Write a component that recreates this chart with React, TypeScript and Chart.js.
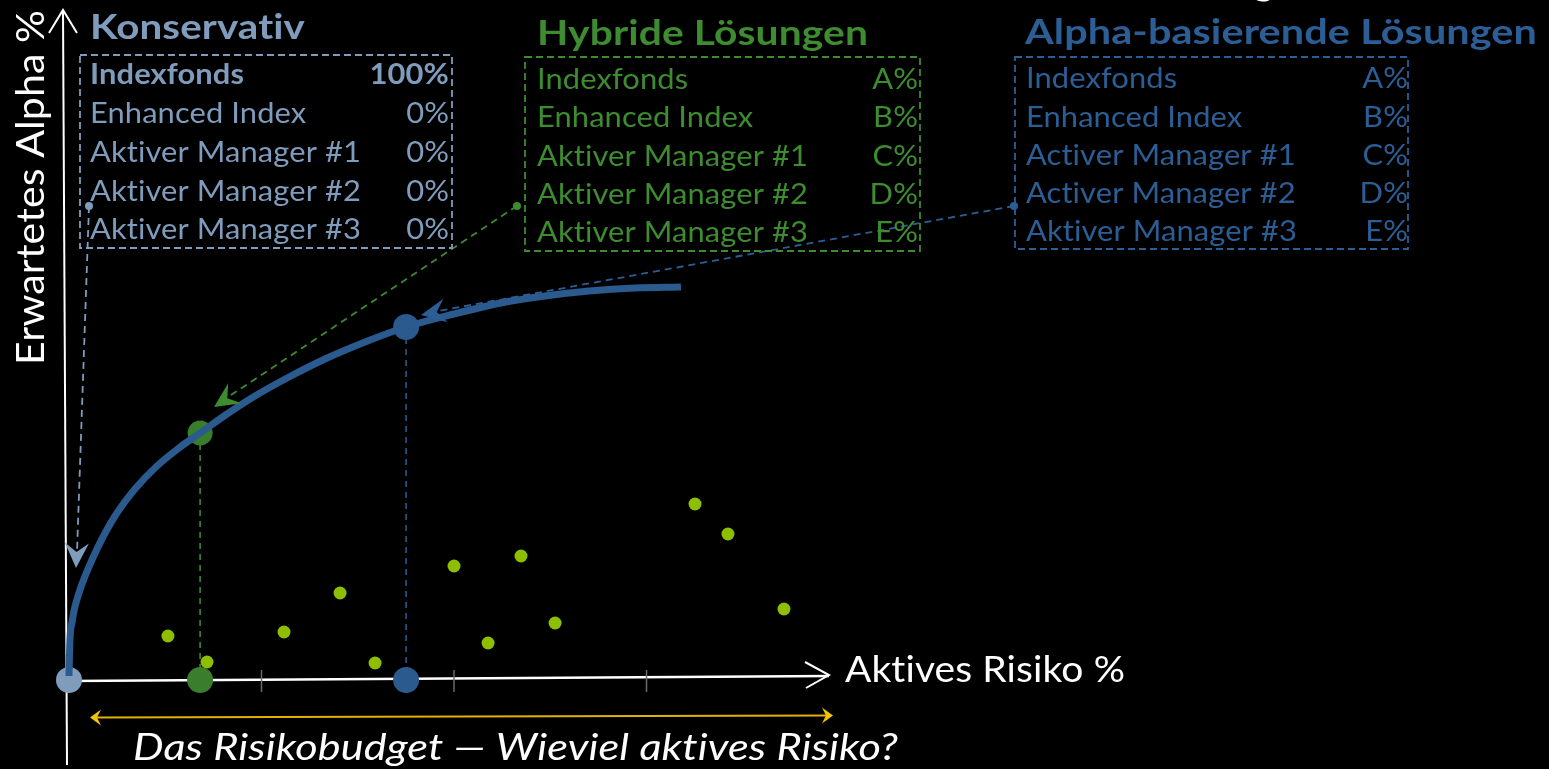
import React, { useEffect, useRef } from "react";
import { Chart, registerables } from "chart.js";
Chart.register(...registerables);

const W = 1549;
const H = 769;

// ---- data (x = Aktives Risiko units, y = Erwartetes Alpha units) ----
const frontierX = [0, 0.005, 0.016, 0.026, 0.036, 0.062, 0.088, 0.119, 0.182, 0.249, 0.338, 0.457, 0.571, 0.681, 0.821, 0.966, 1.143, 1.33, 1.538, 1.751, 2.0, 2.244, 2.473, 2.701, 2.94, 3.179];
const frontierY = [0.04, 0.4, 0.58, 0.69, 0.77, 0.93, 1.06, 1.2, 1.45, 1.67, 1.9, 2.14, 2.32, 2.47, 2.66, 2.84, 3.03, 3.21, 3.38, 3.53, 3.66, 3.77, 3.84, 3.89, 3.92, 3.93];
const managerX = [0.514, 0.717, 1.117, 1.408, 1.59, 2.0, 2.177, 2.348, 2.525, 3.252, 3.423, 3.714];
const managerY = [0.44, 0.18, 0.48, 0.87, 0.17, 1.14, 0.37, 1.24, 0.57, 1.76, 1.46, 0.71];
const portfolioNames = ["Konservativ", "Hybride Lösungen", "Alpha-basierende Lösungen"];
const portfolioX = [0, 0.681, 1.751];
const portfolioY = [0, 2.47, 3.53];
const xTicks = [1, 2, 3];
const konservativRows = ["Indexfonds", "Enhanced Index", "Aktiver Manager #1", "Aktiver Manager #2", "Aktiver Manager #3"];
const konservativValues = ["100%", "0%", "0%", "0%", "0%"];
const hybridRows = ["Indexfonds", "Enhanced Index", "Aktiver Manager #1", "Aktiver Manager #2", "Aktiver Manager #3"];
const hybridValues = ["A%", "B%", "C%", "D%", "E%"];
const alphaRows = ["Indexfonds", "Enhanced Index", "Activer Manager #1", "Activer Manager #2", "Aktiver Manager #3"];
const alphaValues = ["A%", "B%", "C%", "D%", "E%"];
const yAxisTitle = "Erwartetes Alpha %";
const xAxisTitle = "Aktives Risiko %";
const budgetText = "Das Risikobudget \u2014 Wieviel aktives Risiko?";

// ---- styles ----
const KONS = "#7f9cbd";
const GREEN = "#3a7e2d";
const GREEN_TXT = "#3d8c30";
const BLUE = "#2a5a8e";
const BLUE_TXT = "#2c5e96";
const LIME = "#8dbf00";
const YELLOW = "#e2b200";
const FONT = "Lato, 'Open Sans', sans-serif";

const panels = [
  {
    title: portfolioNames[0], rows: konservativRows, values: konservativValues, color: KONS, txt: KONS,
    titleX: 90, titleY: 39, titleW: 215,
    box: [80, 55, 452, 248], rowX: 90, valX: 449, rowY: [84, 123, 162, 201, 239], boldFirst: true,
    dot: [89, 206], lineEnd: [77, 552], tip: [76, 568],
  },
  {
    title: portfolioNames[1], rows: hybridRows, values: hybridValues, color: GREEN_TXT, txt: GREEN_TXT,
    titleX: 537, titleY: 45, titleW: 331,
    box: [525, 57, 920, 251], rowX: 537, valX: 918, rowY: [89, 127, 166, 204, 242], boldFirst: false,
    dot: [517, 206], lineEnd: [228, 397], tip: [214, 407],
  },
  {
    title: portfolioNames[2], rows: alphaRows, values: alphaValues, color: BLUE_TXT, txt: BLUE_TXT,
    titleX: 1025, titleY: 44, titleW: 512,
    box: [1015, 57, 1408, 249], rowX: 1026, valX: 1408, rowY: [88, 127, 165, 203, 241], boldFirst: false,
    dot: [1014, 206], lineEnd: [438, 311], tip: [421, 315],
  },
];

function prep(ctx: any, font: string) {
  ctx.font = font;
  try { ctx.letterSpacing = "0.1px"; } catch (e) {}
  try { ctx.textRendering = "optimizeSpeed"; } catch (e) {}
}

function drawText(ctx: CanvasRenderingContext2D, s: string, x: number, y: number, font: string, color: string, align: CanvasTextAlign, sx: number) {
  ctx.save();
  prep(ctx, font);
  ctx.fillStyle = color;
  ctx.textBaseline = "alphabetic";
  ctx.textAlign = align;
  ctx.translate(x, y);
  ctx.scale(sx, 1);
  ctx.fillText(s, 0, 0);
  ctx.restore();
}

function fitScale(ctx: CanvasRenderingContext2D, s: string, font: string, target: number) {
  ctx.save();
  prep(ctx, font);
  const m = ctx.measureText(s).width;
  ctx.restore();
  return m > 0 ? target / m : 1;
}

function stealth(ctx: CanvasRenderingContext2D, tip: number[], from: number[], len: number, half: number, notch: number, color: string) {
  const dx = tip[0] - from[0];
  const dy = tip[1] - from[1];
  const L = Math.hypot(dx, dy);
  const ux = dx / L, uy = dy / L;
  const px = -uy, py = ux;
  const bx = tip[0] - ux * len, by = tip[1] - uy * len;
  const nx = tip[0] - ux * (len - notch), ny = tip[1] - uy * (len - notch);
  ctx.save();
  ctx.fillStyle = color;
  ctx.beginPath();
  ctx.moveTo(tip[0], tip[1]);
  ctx.lineTo(bx + px * half, by + py * half);
  ctx.lineTo(nx, ny);
  ctx.lineTo(bx - px * half, by - py * half);
  ctx.closePath();
  ctx.fill();
  ctx.restore();
}

const decorPlugin = {
  id: "decor",
  beforeDraw(chart: any) {
    const ctx = chart.ctx;
    ctx.save();
    ctx.fillStyle = "#000";
    ctx.fillRect(0, 0, W, H);
    ctx.restore();
  },
  beforeDatasetsDraw(chart: any) {
    const ctx: CanvasRenderingContext2D = chart.ctx;
    const xs = chart.scales.x, ys = chart.scales.y;
    const X0 = xs.getPixelForValue(0);
    const Y0 = ys.getPixelForValue(0);
    ctx.save();
    ctx.strokeStyle = "#ffffff";
    ctx.lineWidth = 2;
    // y axis
    ctx.beginPath();
    ctx.moveTo(X0 - 2, 765);
    ctx.lineTo(X0 - 6, 10);
    ctx.stroke();
    ctx.beginPath();
    ctx.moveTo(X0 - 20, 33);
    ctx.lineTo(X0 - 6, 10);
    ctx.lineTo(X0 + 8, 33);
    ctx.stroke();
    // x axis
    ctx.lineWidth = 2.5;
    ctx.beginPath();
    ctx.moveTo(X0, Y0 + 1);
    ctx.lineTo(829, Y0 - 4);
    ctx.stroke();
    ctx.lineWidth = 2;
    ctx.beginPath();
    ctx.moveTo(805, 662);
    ctx.lineTo(829, 675);
    ctx.lineTo(806, 688);
    ctx.stroke();
    // ticks
    ctx.strokeStyle = "#6a6a6a";
    ctx.lineWidth = 1.5;
    xTicks.forEach((t) => {
      const p = xs.getPixelForValue(t);
      ctx.beginPath();
      ctx.moveTo(p, Y0 - 10);
      ctx.lineTo(p, Y0 + 12);
      ctx.stroke();
    });
    // budget arrow
    ctx.strokeStyle = YELLOW;
    ctx.lineWidth = 2;
    ctx.beginPath();
    ctx.moveTo(94, 717.5);
    ctx.lineTo(829, 715.5);
    ctx.stroke();
    stealth(ctx, [90, 717.5], [200, 717.5], 11, 8, 4, "#f2c400");
    stealth(ctx, [833, 715.5], [700, 715.5], 11, 8, 4, "#f2c400");
    ctx.restore();
  },
  afterDatasetsDraw(chart: any) {
    const ctx: CanvasRenderingContext2D = chart.ctx;
    // connectors
    panels.forEach((p) => {
      ctx.save();
      ctx.strokeStyle = p.color;
      ctx.fillStyle = p.color;
      ctx.lineWidth = 1.8;
      ctx.setLineDash([7, 5]);
      ctx.beginPath();
      ctx.moveTo(p.dot[0], p.dot[1]);
      ctx.lineTo(p.lineEnd[0], p.lineEnd[1]);
      ctx.stroke();
      ctx.setLineDash([]);
      ctx.beginPath();
      ctx.arc(p.dot[0], p.dot[1], 4, 0, Math.PI * 2);
      ctx.fill();
      ctx.restore();
      stealth(ctx, p.tip, p.dot, 25, 12, 9, p.color);
    });
    // boxes and texts
    const rowFont = `29px ${FONT}`;
    const rowBold = `bold 29px ${FONT}`;
    const rs = fitScale(ctx, "Aktiver Manager #1", rowFont, 271);
    panels.forEach((p) => {
      ctx.save();
      ctx.strokeStyle = p.color;
      ctx.lineWidth = 1.8;
      ctx.setLineDash([7, 4]);
      const [l, t, r, b] = p.box;
      ctx.strokeRect(l, t, r - l, b - t);
      ctx.restore();
      const tf = `bold 35px ${FONT}`;
      drawText(ctx, p.title, p.titleX, p.titleY, tf, p.txt, "left", fitScale(ctx, p.title, tf, p.titleW));
      p.rows.forEach((row, i) => {
        const f = p.boldFirst && i === 0 ? rowBold : rowFont;
        drawText(ctx, row, p.rowX, p.rowY[i], f, p.txt, "left", rs);
        drawText(ctx, p.values[i], p.valX, p.rowY[i], f, p.txt, "right", rs);
      });
    });
    // axis titles
    const af = `37px ${FONT}`;
    drawText(ctx, xAxisTitle, 845, 682, af, "#ffffff", "left", fitScale(ctx, xAxisTitle, af, 280));
    const itf = `italic 37px ${FONT}`;
    drawText(ctx, budgetText, 133, 760, itf, "#ffffff", "left", fitScale(ctx, budgetText, itf, 765));
    ctx.save();
    const yf = `38px ${FONT}`;
    const ysx = fitScale(ctx, yAxisTitle, yf, 355);
    ctx.translate(44, 365);
    ctx.rotate(-Math.PI / 2);
    drawText(ctx, yAxisTitle, 0, 0, yf, "#ffffff", "left", ysx);
    ctx.restore();
    // cut-off glyph at the top edge
    drawText(ctx, "g", 1253, -6, `bold 40px ${FONT}`, "#ffffff", "left", 1);
  },
};

export default function App() {
  const ref = useRef<HTMLCanvasElement | null>(null);
  useEffect(() => {
    if (!ref.current) return;
    const frontier = frontierX.map((x, i) => ({ x, y: frontierY[i] }));
    const managers = managerX.map((x, i) => ({ x, y: managerY[i] }));
    const onCurve = [1, 2].map((i) => ({ x: portfolioX[i], y: portfolioY[i] }));
    const onAxis = portfolioX.map((x) => ({ x, y: 0 }));
    const chart = new Chart(ref.current, {
      type: "scatter",
      data: {
        datasets: [
          { type: "scatter", label: "Manager", data: managers, pointRadius: 6.5, pointBackgroundColor: LIME, pointBorderWidth: 0, order: 0 } as any,
          {
            type: "line", label: "Effizienzlinie", data: frontier, borderColor: BLUE, borderWidth: 7, pointRadius: 0,
            cubicInterpolationMode: "monotone", fill: false, borderCapStyle: "butt", order: 1,
          } as any,
          { type: "scatter", label: "Portfolios", data: onCurve, pointRadius: [12.5, 13], pointBackgroundColor: [GREEN, BLUE], pointBorderWidth: 0, order: 2 } as any,
          { type: "scatter", label: "Risiko", data: onAxis, pointRadius: 13, pointBackgroundColor: [KONS, GREEN, BLUE], pointBorderWidth: 0, order: 2 } as any,
          {
            type: "line", label: "drop1", data: [{ x: portfolioX[1], y: portfolioY[1] }, { x: portfolioX[1], y: 0 }],
            borderColor: GREEN_TXT, borderWidth: 1.6, borderDash: [6, 5], pointRadius: 0, order: 5,
          } as any,
          {
            type: "line", label: "drop2", data: [{ x: portfolioX[2], y: portfolioY[2] }, { x: portfolioX[2], y: 0 }],
            borderColor: BLUE, borderWidth: 1.6, borderDash: [6, 5], pointRadius: 0, order: 5,
          } as any,
        ],
      },
      options: {
        animation: false,
        responsive: false,
        maintainAspectRatio: false,
        devicePixelRatio: 1,
        layout: { padding: 0, autoPadding: false },
        events: [],
        plugins: { legend: { display: false }, tooltip: { enabled: false } },
        scales: {
          x: { type: "linear", min: -0.3584, max: 7.688, display: false },
          y: { type: "linear", min: -0.89, max: 6.8, display: false },
        },
      } as any,
      plugins: [decorPlugin],
    });
    return () => chart.destroy();
  }, []);
  return (
    <div style={{ position: "fixed", left: 0, top: 0, width: W, height: H, background: "#000", overflow: "hidden" }}>
      <canvas ref={ref} width={W} height={H} style={{ display: "block", width: W, height: H }} />
    </div>
  );
}
